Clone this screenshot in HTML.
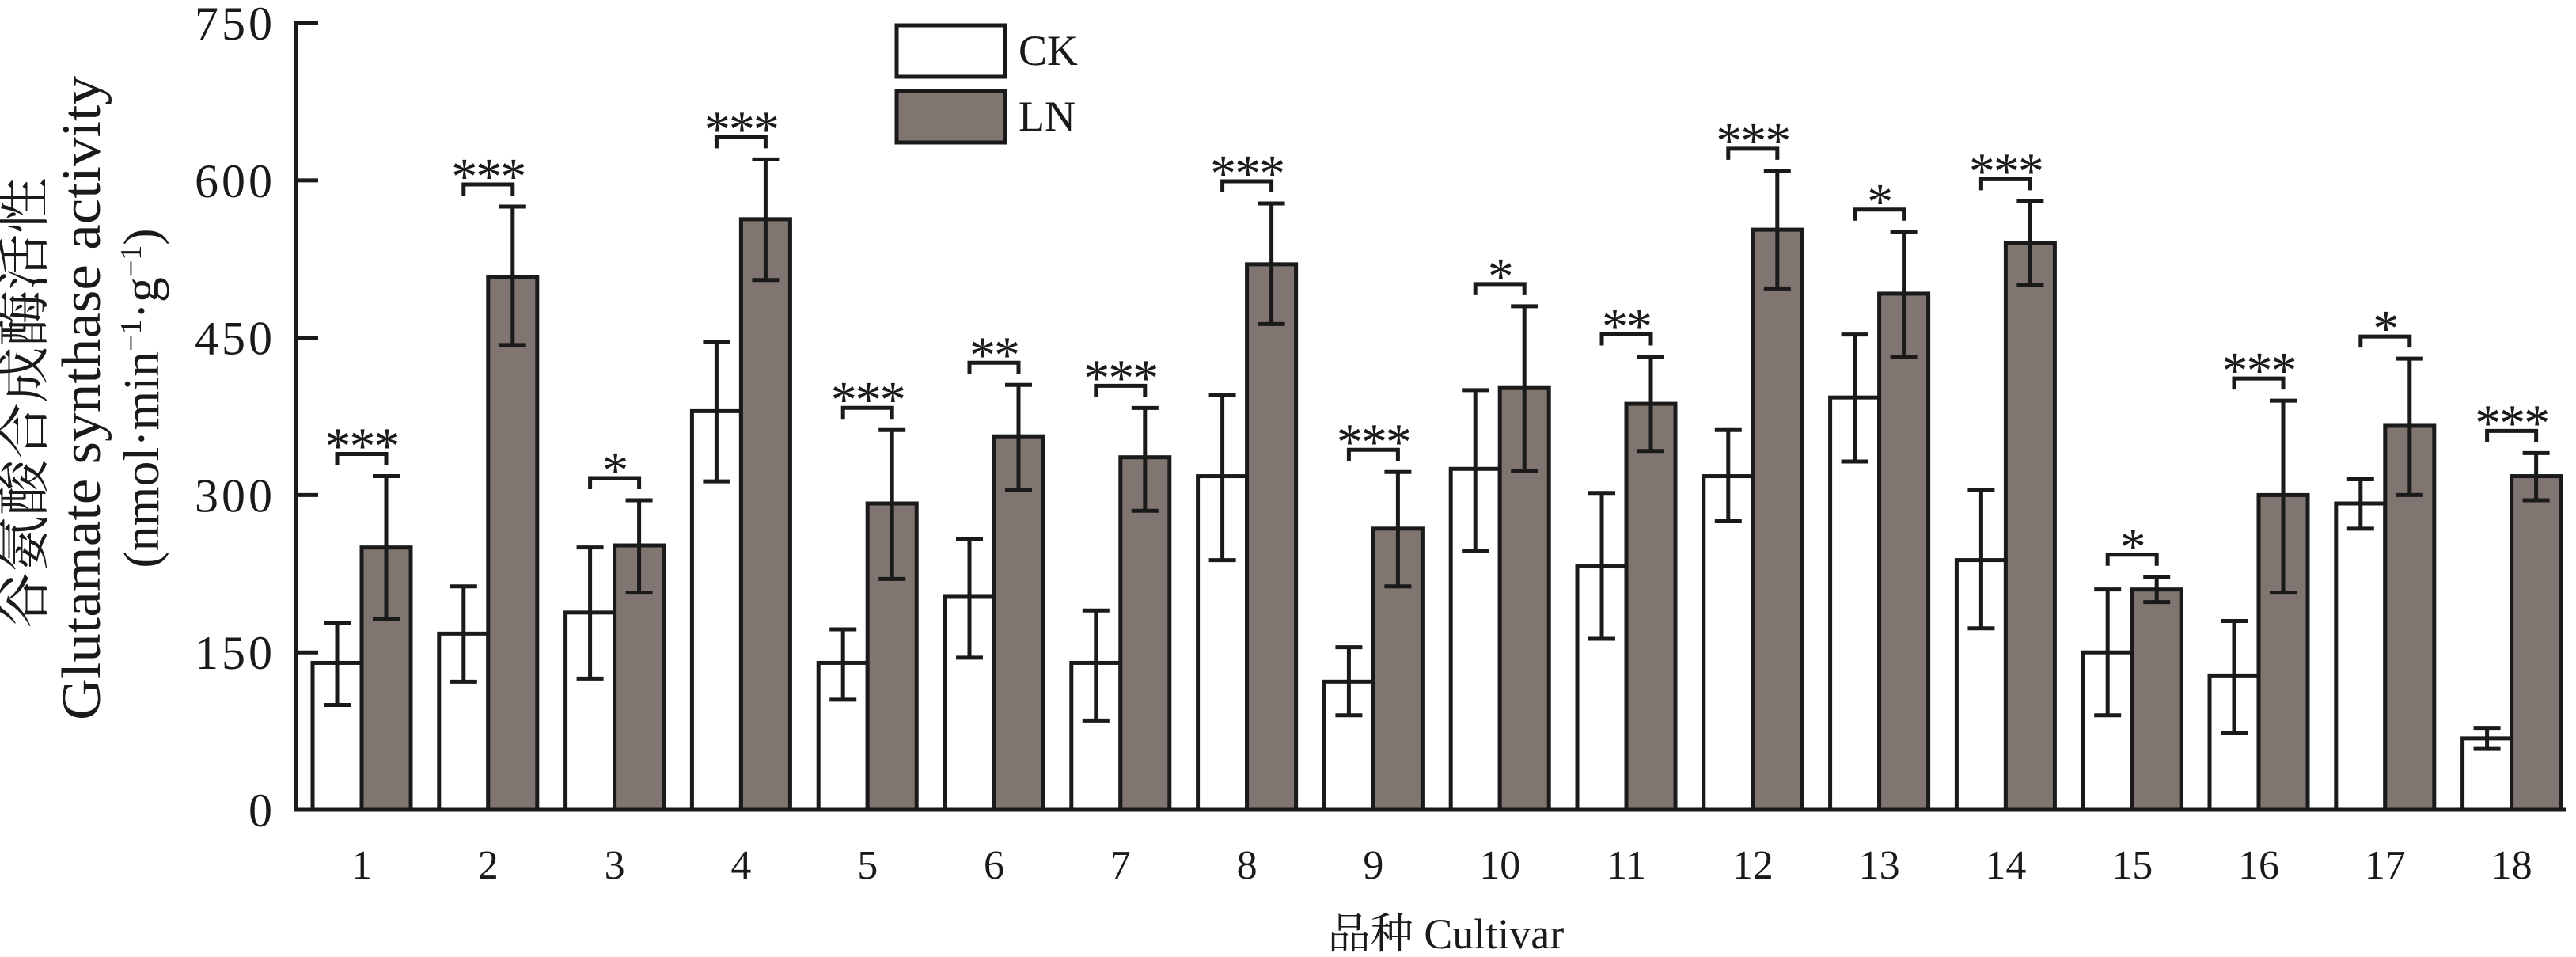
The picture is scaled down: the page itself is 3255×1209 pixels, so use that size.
<!DOCTYPE html>
<html><head><meta charset="utf-8"><style>
html,body{margin:0;padding:0;background:#fff;}
svg{display:block;}
text{font-family:"Liberation Serif","Noto Serif CJK SC",serif;fill:#1a1a1a;}
</style></head><body>
<svg id="s" width="3255" height="1209" viewBox="0 0 3255 1209" xmlns="http://www.w3.org/2000/svg"></svg>
<script>
const s=document.getElementById('s');
const NS='http://www.w3.org/2000/svg';
function el(t,a,txt){const e=document.createElementNS(NS,t);for(const k in a)e.setAttribute(k,a[k]);if(txt!==undefined)e.textContent=txt;s.appendChild(e);return e;}
const Y=v=>1023-v*1.3253;
const d=[[140,100,178,250,182,318,'***'],[168,122,213,508,443,575,'***'],[188,125,250,252,207,295,'*'],[380,313,446,563,505,620,'***'],[140,105,172,292,220,362,'***'],[203,145,258,356,305,405,'**'],[140,85,190,336,285,383,'***'],[318,238,395,520,463,578,'***'],[122,90,155,268,213,322,'***'],[325,247,400,402,323,480,'*'],[232,163,302,387,342,432,'**'],[318,275,362,553,497,609,'***'],[393,332,453,492,432,551,'*'],[238,173,305,540,500,580,'***'],[150,90,210,210,198,222,'*'],[128,73,180,300,207,390,'***'],[292,268,315,366,300,430,'*'],[68,58,78,318,295,340,'***']];
const W=62,col='#1a1a1a';
d.forEach((r,i)=>{
 const c=457+159.8*i;
 el('rect',{x:c-W,y:Y(r[0]),width:W,height:1023-Y(r[0]),fill:'#fff',stroke:col,'stroke-width':5});
 el('rect',{x:c,y:Y(r[3]),width:W,height:1023-Y(r[3]),fill:'#807570',stroke:col,'stroke-width':5});
 [[c-W/2,r[1],r[2]],[c+W/2,r[4],r[5]]].forEach(e=>{
  el('line',{x1:e[0],x2:e[0],y1:Y(e[1]),y2:Y(e[2]),stroke:col,'stroke-width':5});
  el('line',{x1:e[0]-17,x2:e[0]+17,y1:Y(e[1]),y2:Y(e[1]),stroke:col,'stroke-width':5});
  el('line',{x1:e[0]-17,x2:e[0]+17,y1:Y(e[2]),y2:Y(e[2]),stroke:col,'stroke-width':5});
 });
 const by=Y(r[5])-28;
 el('polyline',{points:`${c-W/2},${by+14} ${c-W/2},${by} ${c+W/2},${by} ${c+W/2},${by+14}`,fill:'none',stroke:col,'stroke-width':5});
 el('text',{x:c,y:by+12,'font-size':66,'text-anchor':'middle','letter-spacing':'-2'},r[6]);
 el('text',{x:c,y:1110,'font-size':52,'text-anchor':'middle'},String(i+1));
});
// axes
el('line',{x1:374,x2:374,y1:27,y2:1025,stroke:col,'stroke-width':5});
el('line',{x1:372,x2:3242,y1:1023,y2:1023,stroke:col,'stroke-width':5});
[0,150,300,450,600,750].forEach(v=>{
 el('line',{x1:374,x2:402,y1:Y(v),y2:Y(v),stroke:col,'stroke-width':5});
 el('text',{x:348,y:Y(v)+21,'font-size':60,'text-anchor':'end','letter-spacing':'4'},String(v));
});
// legend
el('rect',{x:1133,y:32,width:137,height:65,fill:'#fff',stroke:col,'stroke-width':5});
el('rect',{x:1133,y:115,width:137,height:65,fill:'#807570',stroke:col,'stroke-width':5});
el('text',{x:1287,y:82,'font-size':54},'CK');
el('text',{x:1287,y:165,'font-size':54},'LN');
el('text',{x:1827,y:1198,'font-size':54,'text-anchor':'middle'},'品种 Cultivar');
// y title
const g=(x,cy,t,fs,len)=>el('text',{x:0,y:0,'font-size':fs,'text-anchor':'middle',textLength:len,lengthAdjust:'spacingAndGlyphs',transform:`translate(${x},${cy}) rotate(-90)`},t);
g(54,509,'谷氨酸合成酶活性',68,570);
g(126,503,'Glutamate synthase activity',70,814);
const t=el('text',{x:0,y:0,'font-size':64,'text-anchor':'middle',transform:'translate(200,503) rotate(-90)'});
t.innerHTML='(nmol·min<tspan dy="-22" font-size="38">−1</tspan><tspan dy="22">·g</tspan><tspan dy="-22" font-size="38">−1</tspan><tspan dy="22">)</tspan>';
</script>
</body></html>
